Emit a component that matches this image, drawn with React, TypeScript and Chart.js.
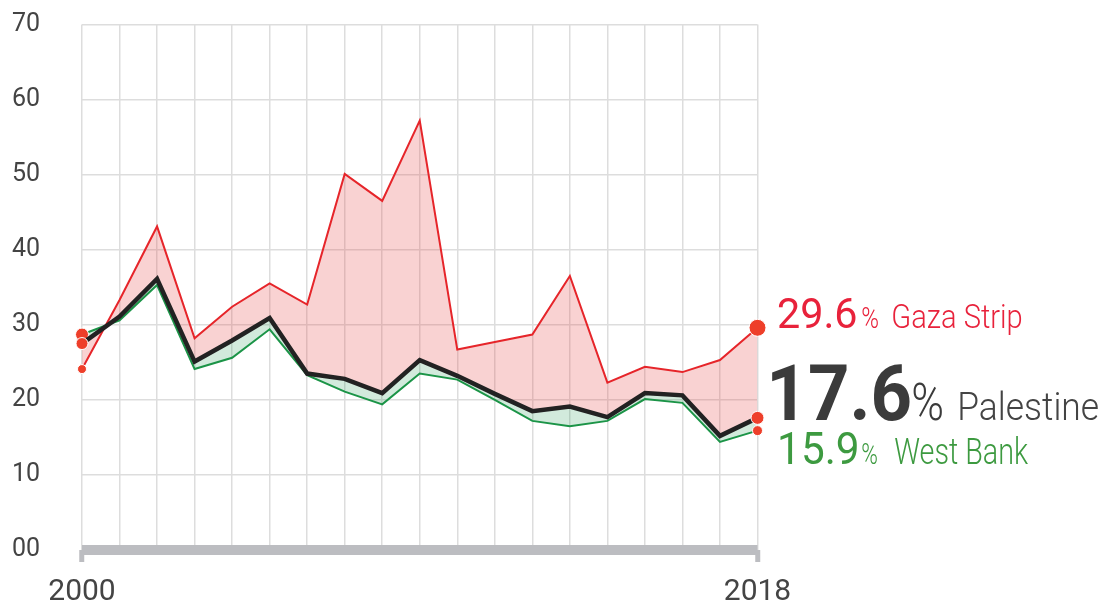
import React, { useEffect, useRef } from "react";
import { Chart, registerables } from "chart.js";

Chart.register(...registerables);

const years = ["2000","2001","2002","2003","2004","2005","2006","2007","2008","2009","2010","2011","2012","2013","2014","2015","2016","2017","2018"];
const gaza = [24.1, 33.3, 43.1, 28.2, 32.4, 35.5, 32.7, 50.1, 46.5, 57.2, 26.7, 27.7, 28.7, 36.5, 22.3, 24.4, 23.7, 25.3, 29.6];
const palestine = [27.5, 31.1, 36.1, 25.1, 27.9, 30.9, 23.5, 22.8, 20.9, 25.3, 23.2, 20.8, 18.5, 19.1, 17.7, 20.9, 20.6, 15.2, 17.6];
const westBank = [28.7, 30.6, 35.3, 24.1, 25.6, 29.4, 23.3, 21.1, 19.4, 23.5, 22.7, 20.0, 17.2, 16.5, 17.2, 20.1, 19.6, 14.4, 15.9];
const seriesNames = ["Gaza Strip", "Palestine", "West Bank"];
const yTicks = [0, 10, 20, 30, 40, 50, 60, 70];

const RED_LINE = "#e6252a";
const GREEN_LINE = "#1b9447";
const DOT = "#ee3f2a";
const RED_TEXT = "#e8223b";
const GREEN_TEXT = "#3d9a40";
const DARK_TEXT = "#3b3b3b";
const AXIS_GRAY = "#bcbdc1";
const GRID = "#dddddd";

function radiusFor(first: number, last: number) {
  return (c: any) => {
    if (c.dataIndex === 0) return first;
    if (c.dataIndex === years.length - 1) return last;
    return 0;
  };
}

const endLabels = {
  id: "endLabels",
  afterDraw(chart: any) {
    const ctx = chart.ctx as CanvasRenderingContext2D;
    const xs = chart.scales.x;
    const ys = chart.scales.y;
    const last = years.length - 1;
    const x0 = xs.getPixelForValue(last);
    const run = (text: string, font: string, color: string, inkX: number, baseline: number, inkW: number) => {
      ctx.save();
      ctx.font = font;
      ctx.fillStyle = color;
      ctx.textBaseline = "alphabetic";
      ctx.textAlign = "left";
      const m = ctx.measureText(text);
      const w = m.actualBoundingBoxLeft + m.actualBoundingBoxRight;
      const s = inkW / w;
      ctx.translate(inkX + s * m.actualBoundingBoxLeft, baseline);
      ctx.scale(s, 1);
      ctx.fillText(text, 0, 0);
      ctx.restore();
    };
    const gy = ys.getPixelForValue(gaza[last]);
    const py = ys.getPixelForValue(palestine[last]) + 2.5;
    const wy = py + 44;
    run(gaza[last].toFixed(1), "400 42px Roboto", RED_TEXT, x0 + 20.5, gy, 78);
    run("%", "300 30px Roboto", RED_TEXT, x0 + 104.5, gy, 16);
    run(seriesNames[0], "300 34px Roboto", RED_TEXT, x0 + 135.5, gy, 129);

    run(palestine[last].toFixed(1), "700 77px Roboto", DARK_TEXT, x0 + 14.5, py, 138);
    run("%", "300 52px Roboto", DARK_TEXT, x0 + 155.5, py, 29);
    run(seriesNames[1], "300 39px Roboto", "#444444", x0 + 202.5, py, 138);

    run(westBank[last].toFixed(1), "400 44px Roboto", GREEN_TEXT, x0 + 22.5, wy, 77);
    run("%", "300 30px Roboto", GREEN_TEXT, x0 + 104.5, wy, 15);
    run(seriesNames[2], "300 37px Roboto", GREEN_TEXT, x0 + 137.5, wy, 133);
  },
};

export default function App() {
  const ref = useRef<HTMLCanvasElement>(null);
  useEffect(() => {
    if (!ref.current) return;
    const chart = new Chart(ref.current, {
      type: "line",
      data: {
        labels: years,
        datasets: [
          {
            label: seriesNames[1],
            data: palestine,
            borderColor: "#222222",
            borderWidth: 4.5,
            fill: false,
            pointRadius: radiusFor(6, 6.5),
            pointBackgroundColor: DOT,
            pointBorderColor: "#ffffff",
            pointBorderWidth: 1,
            clip: false as any,
          },
          {
            label: seriesNames[0],
            data: gaza,
            borderColor: RED_LINE,
            borderWidth: 2,
            fill: { target: 0, above: "rgba(230,60,60,0.23)", below: "rgba(230,60,60,0.23)" },
            pointRadius: radiusFor(4.5, 8.5),
            pointBackgroundColor: DOT,
            pointBorderColor: "#ffffff",
            pointBorderWidth: 1,
            clip: false as any,
          },
          {
            label: seriesNames[2],
            data: westBank,
            borderColor: GREEN_LINE,
            borderWidth: 2,
            fill: { target: 0, above: "rgba(30,150,80,0.2)", below: "rgba(30,150,80,0.2)" },
            pointRadius: radiusFor(6.5, 5),
            pointBackgroundColor: DOT,
            pointBorderColor: "#ffffff",
            pointBorderWidth: 1,
            clip: false as any,
          },
        ],
      },
      options: {
        animation: false,
        responsive: false,
        maintainAspectRatio: false,
        layout: { padding: { left: 12, top: 24.5, right: 347.5, bottom: 0 } },
        plugins: { legend: { display: false }, tooltip: { enabled: false } },
        elements: { line: { tension: 0 } },
        scales: {
          x: {
            type: "category",
            offset: false,
            afterFit: (s: any) => { s.height = 55; },
            grid: {
              color: GRID,
              lineWidth: 1.5,
              drawTicks: true,
              tickLength: 12,
              tickWidth: 5,
              tickColor: (c: any) => (c.index === 0 || c.index === years.length - 1 ? AXIS_GRAY : "rgba(0,0,0,0)"),
            },
            border: { display: false },
            ticks: {
              autoSkip: false,
              maxRotation: 0,
              padding: 12,
              color: "#444444",
              font: { family: "Roboto", size: 30 },
              callback: (_v: any, i: number) => (i === 0 || i === years.length - 1 ? years[i] : ""),
            },
          },
          y: {
            min: yTicks[0],
            max: yTicks[yTicks.length - 1],
            afterFit: (s: any) => { s.width = 70; },
            afterBuildTicks: (s: any) => { s.ticks = yTicks.map((v) => ({ value: v })); },
            grid: {
              color: (c: any) => (c.tick && c.tick.value === 0 ? AXIS_GRAY : GRID),
              lineWidth: (c: any) => (c.tick && c.tick.value === 0 ? 10 : 1.5),
              drawTicks: false,
            },
            border: { display: false },
            ticks: {
              crossAlign: "far",
              color: "#444444",
              font: { family: "Roboto", size: 25 },
              callback: (v: any) => String(v).padStart(2, "0"),
            },
          },
        },
      },
      plugins: [endLabels],
    });
    return () => chart.destroy();
  }, []);
  return (
    <div style={{ position: "fixed", left: 0, top: 0, width: 1105, height: 605, background: "#fff" }}>
      <canvas ref={ref} width={1105} height={605} style={{ display: "block" }} />
    </div>
  );
}
